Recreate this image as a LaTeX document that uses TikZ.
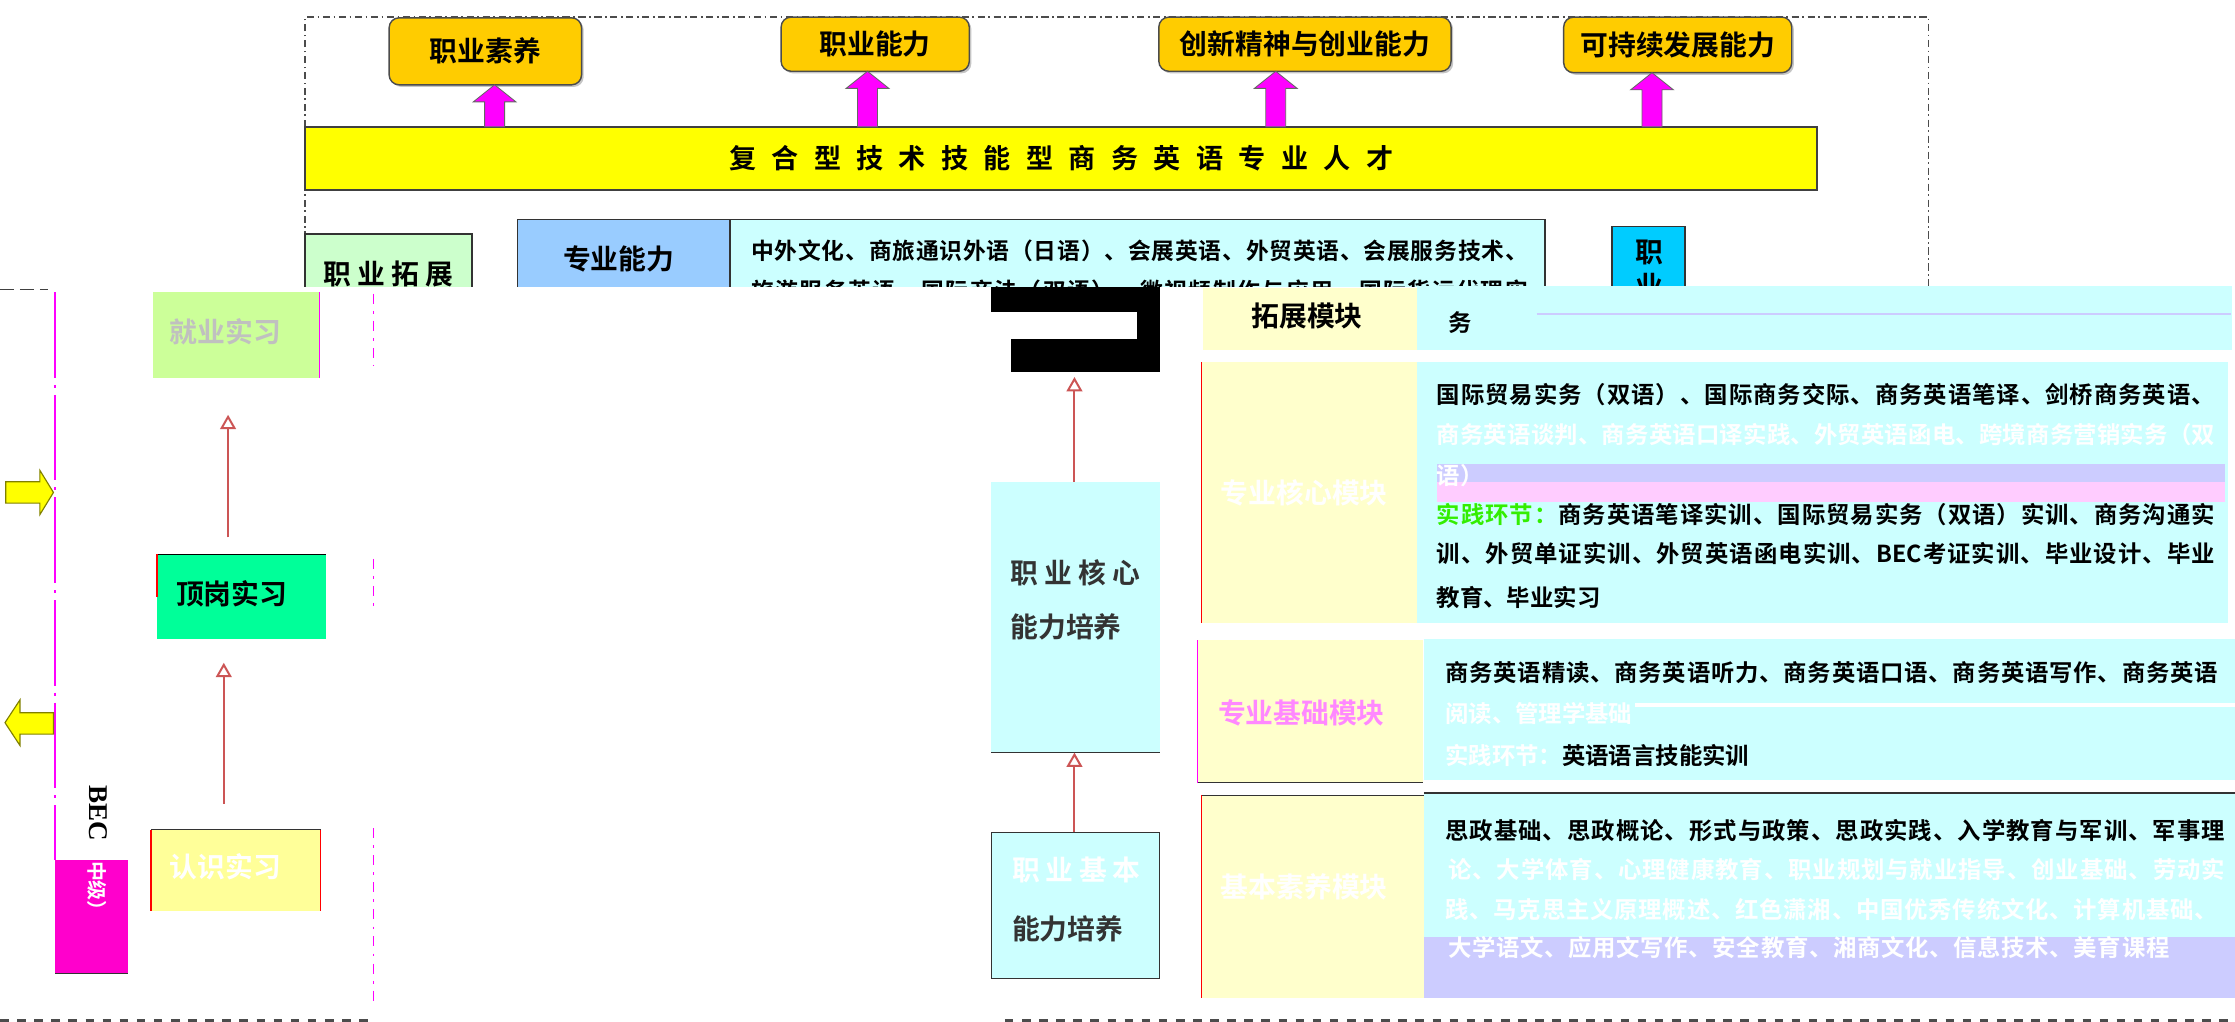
\documentclass[tikz,border=0pt]{standalone}
\usepackage{fontspec}
\setmainfont{Noto Sans CJK SC}[BoldFont={Noto Sans CJK SC Bold}]
\newfontfamily\becfont{Liberation Serif}[BoldFont={Liberation Serif Bold}]
\usetikzlibrary{arrows.meta,shadows,calc}
\definecolor{cOrange}{HTML}{FFCC00}
\definecolor{cYellow}{HTML}{FFFF00}
\definecolor{cMagA}{HTML}{FF00FF}
\definecolor{cGreenL}{HTML}{CCFFCC}
\definecolor{cBlue}{HTML}{99CCFF}
\definecolor{cCyan}{HTML}{CCFFFF}
\definecolor{cCyanD}{HTML}{00CCFF}
\definecolor{cMag}{HTML}{FF00CC}
\definecolor{cLime}{HTML}{CCFF99}
\definecolor{cGreenS}{HTML}{00FF99}
\definecolor{cYellowL}{HTML}{FFFF99}
\definecolor{cCream}{HTML}{FFFFCC}
\definecolor{cLav}{HTML}{CCCCFF}
\definecolor{cPinkL}{HTML}{FFCCFF}
\definecolor{cGrayT}{HTML}{C0C0C0}
\definecolor{cPinkT}{HTML}{FF88FF}
\definecolor{cGreenT}{HTML}{33EE00}
\definecolor{cArr}{HTML}{CC5555}
\definecolor{cDark}{HTML}{333333}
\definecolor{cOlive}{HTML}{808000}
\makeatletter
\def\spreadtxt#1{\spr@a#1\spr@end}
\def\spr@a#1{#1\spr@b}
\def\spr@b#1{\ifx\spr@end#1\else\hskip 0pt plus 1fil\relax #1\expandafter\spr@b\fi}
\makeatother
\newcommand{\BEC}{BEC}
\newcommand{\jl}[2]{\makebox[#1][s]{\spreadtxt{#2}}}
\newcommand{\magup}[2]{%
  \path[magfill] let \p1=(#1 |- #2.south), \p2=(#1) in
  (\x1-7pt,\y2) -- (\x1-7pt,\y1-12pt) -- (\x1-15pt,\y1-12pt) -- (\x1,\y1)
  -- (\x1+15pt,\y1-12pt) -- (\x1+7pt,\y1-12pt) -- (\x1+7pt,\y2) -- cycle;}
\tikzset{
  bx/.style n args={3}{anchor=north west,minimum width=#1,minimum height=#2,fill=#3},
}
\begin{document}
\begin{tikzpicture}[x=1pt,y=-1pt,
  every node/.style={inner sep=0pt,outer sep=0pt},
  topbox/.style={draw=black!70,line width=1pt,fill=cOrange,rounded corners=7pt,
     drop shadow={shadow xshift=1.5pt,shadow yshift=-1.5pt,opacity=0.45},
     font=\fontsize{19.5}{22}\selectfont\bfseries},
  lab/.style={font=\fontsize{19.5}{22}\selectfont\bfseries},
  ctext/.style={anchor=west,font=\fontsize{16.4}{20}\selectfont\bfseries},
  thinarr/.style={draw=cArr,line width=1.4pt,-{Triangle[length=10pt,width=11pt,fill=white]}},
  magfill/.style={fill=cMagA,draw=black!60,line width=0.6pt},
  frame/.style={draw=black!70,line width=1pt,dash pattern=on 5pt off 2.5pt on 1.2pt off 2.5pt},
  edge/.style={draw=black!80,line width=1.2pt},
]
\useasboundingbox[fill=white] (0,0) rectangle (1568,717);

% ---------- upper scene ----------
\begin{scope}
\clip (0,0) rectangle (1568,201);
\draw[frame] (214,201) -- (214,12) -- (1353,12) -- (1353,201);
\node[bx={1061pt}{44pt}{cYellow},draw=black!75,line width=1.3pt] (bar) at (214,89) {};
\node[font=\fontsize{19}{22}\selectfont\bfseries] (bart) at (bar.center) {\jl{466pt}{复合型技术技能型商务英语专业人才}};
\node[topbox,minimum width=135pt,minimum height=47pt] (ts) at (340.5,36) {职业素养};
\node[topbox,minimum width=132pt,minimum height=38pt] (tn) at (614,31) {职业能力};
\node[topbox,minimum width=205pt,minimum height=38pt] (tc) at (915.5,31) {创新精神与创业能力};
\node[topbox,minimum width=160pt,minimum height=39pt] (tk) at (1177,31.5) {可持续发展能力};
\coordinate (a1) at (347,89);
\coordinate (a2) at (608.6,89);
\coordinate (a3) at (895,89);
\coordinate (a4) at (1159,89);
\magup{a1}{ts}
\magup{a2}{tn}
\magup{a3}{tc}
\magup{a4}{tk}
\node[bx={117pt}{80pt}{cGreenL},edge] (zt) at (214,164) {};
\node[lab] (ztt) at (272.5,192) {\jl{91pt}{职业拓展}};
\node[bx={149pt}{80pt}{cBlue},edge] (zn) at (363,154) {};
\node[lab] (znt) at (434,182) {专业能力};
\node[bx={572pt}{80pt}{cCyan},edge] (znc) at (512,154) {};
\node[ctext,font=\fontsize{16}{20}\selectfont\bfseries] (znc1) at (527,176) {\jl{545pt}{中外文化、商旅通识外语（日语）、会展英语、外贸英语、会展服务技术、}};
\node[ctext,font=\fontsize{16}{20}\selectfont\bfseries] (znc2) at (527,204) {\jl{545pt}{旅游服务英语、国际商法（双语）、微视频制作与应用、国际货运代理实}};
\node[bx={51pt}{80pt}{cCyanD},edge] (zy) at (1131,159) {};
\node[lab] (zy1) at (1157,177) {职};
\node[lab] (zy2) at (1157,200) {业};
\end{scope}

% ---------- lower scene: left ----------
\draw[black!75,line width=1.2pt,dash pattern=on 10pt off 4pt] (0,203) -- (34,203);
\draw[cMagA,line width=1pt,dash pattern=on 60pt off 5pt on 2pt off 5pt] (38.6,205) -- (38.6,603);
\filldraw[fill=cYellow,draw=cOlive,line width=0.8pt]
  (4,338) -- (28,338) -- (28,330) -- (37.5,345.5) -- (28,361) -- (28,353) -- (4,353) -- cycle;
\filldraw[fill=cYellow,draw=cOlive,line width=0.8pt]
  (37.5,500) -- (14,500) -- (14,491) -- (3.5,507) -- (14,523) -- (14,515) -- (37.5,515) -- cycle;
\node[bx={51pt}{80pt}{cMag}] (bec) at (38.6,603) {};
\draw[edge] (bec.south west) -- (bec.south east);
\node[rotate=-90,anchor=west] (bect) at (68.5,551)
  {{\becfont\bfseries\fontsize{19}{22}\selectfont BEC}{\color{white}\fontsize{14}{16}\selectfont\bfseries（中级）}};

\node[bx={117pt}{60pt}{cLime}] (jy) at (107,205) {};
\draw[cMagA,line width=1pt] (jy.north east) -- (jy.south east);
\node[lab,text=cGrayT] (jyt) at ([xshift=-7.5pt,yshift=2pt]jy.center) {就业实习};
\node[bx={119pt}{59pt}{cGreenS}] (dg) at (110,389) {};
\draw[edge,draw=black] (dg.north west) -- (dg.north east);
\draw[red,line width=1pt] (dg.north west) -- ([yshift=-30pt]dg.north west);
\node[lab] (dgt) at ([xshift=-7pt,yshift=2pt]dg.center) {顶岗实习};
\node[bx={119pt}{57pt}{cYellowL}] (rs) at (106,582) {};
\draw[edge] (rs.north west) -- (rs.north east);
\draw[red,line width=1pt] (rs.north west) -- (rs.south west);
\draw[red,line width=1pt] (rs.north east) -- (rs.south east);
\node[lab,text=white] (rst) at ([xshift=-7.5pt,yshift=2.5pt]rs.center) {认识实习};

\coordinate (c1) at (157,0);
\coordinate (c2) at (160,0);
\draw[thinarr,shorten <=18pt,shorten >=17pt] (c1 |- rs.north) -- (c1 |- dg.south);
\draw[thinarr,shorten <=12pt,shorten >=26pt] (c2 |- dg.north) -- (c2 |- jy.south);

\draw[cMagA,line width=1.2pt,dash pattern=on 7pt off 5pt on 2pt off 5pt] (262,206) -- (262,257);
\draw[cMagA,line width=1.2pt,dash pattern=on 7pt off 5pt on 2pt off 5pt] (262,392) -- (262,429);
\draw[cMagA,line width=1.2pt,dash pattern=on 7pt off 5pt on 2pt off 5pt] (262,581) -- (262,702);

% ---------- lower scene: middle ----------
\node[bx={119pt}{60pt}{black}] (blk) at (695,201) {};
\fill[white] (695,219) rectangle (798,238);
\fill[white] (695,238) rectangle (709,261);
\node[bx={118.5pt}{190pt}{cCyan}] (zh) at (695.5,338) {};
\draw[edge] (zh.south west) -- (zh.south east);
\node[lab,anchor=west,text=cDark] (zh1) at (709,402) {\jl{91pt}{职业核心}};
\node[lab,anchor=west,text=cDark] (zh2) at (709,440) {能力培养};
\node[bx={118pt}{102.5pt}{cCyan},edge] (zj) at (695.5,584) {};
\node[lab,anchor=west,text=white] (zj1) at (710,610.5) {\jl{90pt}{职业基本}};
\node[lab,anchor=west,text=cDark] (zj2) at (710,651.5) {能力培养};
\coordinate (c3) at (753.8,0);
\draw[thinarr,shorten >=3.5pt] (c3 |- zh.north) -- (c3 |- blk.south);
\draw[thinarr] (c3 |- zj.north) -- (c3 |- zh.south);

% ---------- lower scene: module labels ----------
\node[bx={150pt}{43.6pt}{cCream}] (mt) at (844,202) {};
\node[lab] (mtt) at (917,222) {拓展模块};
\node[bx={151pt}{183pt}{cCream}] (mh) at (843,254) {};
\draw[red,line width=0.8pt] (mh.north west) -- (mh.south west);
\node[lab,text=white] (mht) at (915,346) {专业核心模块};
\node[bx={158pt}{100pt}{cCream}] (mj) at (840,449) {};
\draw[edge] (mj.south west) -- (mj.south east);
\draw[cMagA,line width=0.8pt] (mj.north west) -- (mj.south west);
\node[lab,text=cPinkT] (mjt) at (913,500) {专业基础模块};
\node[bx={157pt}{142pt}{cCream}] (ms) at (843,558) {};
\draw[edge] (ms.north west) -- (ms.north east);
\draw[red,line width=0.8pt] (ms.north west) -- (ms.south west);
\node[lab,text=white] (mst) at (915,622) {基本素养模块};

% ---------- lower scene: contents ----------
\node[bx={571.6pt}{44.9pt}{cCyan}] (ct) at (994,200.7) {};
\draw[cLav,line width=1.5pt] (1078,220) -- (1565,220);
\node[ctext] (ct1) at (1016,226) {务};

\node[bx={569pt}{183.2pt}{cCyan}] (ch) at (994,253.8) {};
\fill[cLav] (1008,325.6) rectangle (1561,338);
\fill[cPinkL] (1008,338) rectangle (1561,352);
\node[ctext] (ch1) at (1008,276.5) {\jl{546pt}{国际贸易实务（双语）、国际商务交际、商务英语笔译、剑桥商务英语、}};
\node[ctext,text=white] (ch2) at (1008,305) {\jl{546pt}{商务英语谈判、商务英语口译实践、外贸英语函电、跨境商务营销实务（双}};
\node[ctext,text=white] (ch3) at (1008,334) {语）};
\node[ctext] (ch4) at (1008,361) {\makebox[546pt][s]{\textcolor{cGreenT}{\spreadtxt{实践环节：}}\hskip 0pt plus 1fil\relax\spreadtxt{商务英语笔译实训、国际贸易实务（双语）实训、商务沟通实}}};
\node[ctext] (ch5) at (1008,388) {\jl{546pt}{训、外贸单证实训、外贸英语函电实训、\BEC 考证实训、毕业设计、毕业}};
\node[ctext] (ch6) at (1008,419) {教育、毕业实习};

\node[bx={569pt}{99pt}{cCyan}] (cj) at (999,448) {};
\fill[white] (1147,493) rectangle (1568,496);
\node[ctext] (cj1) at (1014,471.8) {\jl{542pt}{商务英语精读、商务英语听力、商务英语口语、商务英语写作、商务英语}};
\node[ctext,text=white] (cj2) at (1014,500.6) {阅读、管理学基础};
\node[ctext] (cj3) at (1014,530) {\textcolor{white}{实践环节：}英语语言技能实训};

\node[bx={569pt}{143.5pt}{cCyan}] (cs) at (999,556.5) {};
\fill[cLav] (999,657.5) rectangle (1568,700);
\draw[edge] (cs.north west) -- (cs.north east);
\node[ctext] (cs1) at (1014,582.5) {\jl{547pt}{思政基础、思政概论、形式与政策、思政实践、入学教育与军训、军事理}};
\node[ctext,text=white] (cs2) at (1016,610) {\jl{545pt}{论、大学体育、心理健康教育、职业规划与就业指导、创业基础、劳动实}};
\node[ctext,text=white] (cs3) at (1014,638) {\jl{542pt}{践、马克思主义原理概述、红色潇湘、中国优秀传统文化、计算机基础、}};
\node[ctext,text=white] (cs4) at (1016,664.5) {\jl{506pt}{大学语文、应用文写作、安全教育、湘商文化、信息技术、美育课程}};

% ---------- bottom dashed lines ----------
\draw[black!70,line width=2pt,dash pattern=on 6pt off 6pt] (0,716) -- (262,716);
\draw[black!70,line width=2pt,dash pattern=on 6pt off 6pt] (705,716) -- (1568,716);
\end{tikzpicture}
\end{document}
